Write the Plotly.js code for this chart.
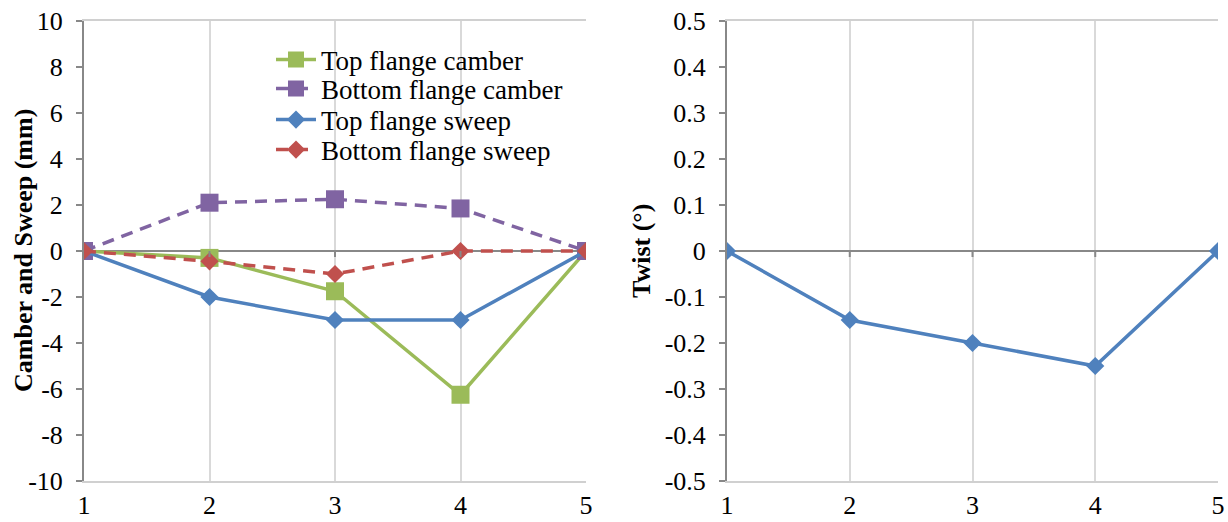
<!DOCTYPE html>
<html><head><meta charset="utf-8">
<script src="https://cdn.plot.ly/plotly-3.0.1.min.js"></script>
<style>html,body{margin:0;padding:0;background:#fff}#c{width:1228px;height:522px}</style>
</head><body><div id="c"></div>
<script>
const positions = [1, 2, 3, 4, 5];
const topCamber = [0, -0.3, -1.75, -6.25, 0];
const bottomCamber = [0, 2.1, 2.25, 1.85, 0];
const topSweep = [0, -2, -3, -3, 0];
const bottomSweep = [0, -0.45, -1, 0, 0];
const twist = [0, -0.15, -0.2, -0.25, 0];
const leftTicks = [-10, -8, -6, -4, -2, 0, 2, 4, 6, 8, 10];
const rightTicks = [-0.5, -0.4, -0.3, -0.2, -0.1, 0, 0.1, 0.2, 0.3, 0.4, 0.5];
const seriesNames = ['Top flange camber', 'Bottom flange camber', 'Top flange sweep', 'Bottom flange sweep'];
const leftTitle = 'Camber and Sweep (mm)';
const rightTitle = 'Twist (°)';

const FONT = 'Liberation Serif';
const W = 1228, H0 = 21, H1 = 481;
const DASH = '12px,8px';
const traces = [
  {x: positions, y: topCamber, name: seriesNames[0], legend: 'legend', mode: 'lines+markers',
   line: {color: '#9BBB59', width: 3.5}, marker: {symbol: 'square', size: 18, color: '#9BBB59'}, xaxis: 'x', yaxis: 'y'},
  {x: positions, y: bottomCamber, name: seriesNames[1], legend: 'legend2', mode: 'lines+markers',
   line: {color: '#8064A2', width: 3.5, dash: DASH}, marker: {symbol: 'square', size: 18, color: '#8064A2'}, xaxis: 'x', yaxis: 'y'},
  {x: positions, y: topSweep, name: seriesNames[2], legend: 'legend3', mode: 'lines+markers',
   line: {color: '#4F81BD', width: 3.5}, marker: {symbol: 'diamond', size: 14, color: '#4F81BD'}, xaxis: 'x', yaxis: 'y'},
  {x: positions, y: bottomSweep, name: seriesNames[3], legend: 'legend4', mode: 'lines+markers',
   line: {color: '#C0504D', width: 3.5, dash: DASH}, marker: {symbol: 'diamond', size: 14, color: '#C0504D'}, xaxis: 'x', yaxis: 'y'},
  {x: positions, y: twist, name: 'Twist', mode: 'lines+markers', showlegend: false,
   line: {color: '#4F81BD', width: 3.5}, marker: {symbol: 'diamond', size: 14, color: '#4F81BD'}, xaxis: 'x2', yaxis: 'y2'}
];

function xax(domain, anchor) {
  return {domain: domain, anchor: anchor, range: [1, 5], tickmode: 'array', tickvals: positions, ticktext: positions.map(String),
    showgrid: true, gridcolor: '#d9d9d9', gridwidth: 2, showline: true, mirror: true, linecolor: '#d0d0d0', linewidth: 2,
    zeroline: false, ticks: '', tickfont: {family: FONT, size: 26, color: '#000'}};
}
function yax(ticks, anchor) {
  return {anchor: anchor, domain: [0, 1], range: [ticks[0], ticks[ticks.length - 1]], tickmode: 'array', tickvals: ticks,
    ticktext: ticks.map(String), showgrid: false, showline: true, linecolor: '#888888', linewidth: 2,
    ticks: 'outside', ticklen: 6, tickcolor: '#888888', tickwidth: 2, ticklabelstandoff: 8,
    zeroline: true, zerolinecolor: '#888888', zerolinewidth: 2,
    tickfont: {family: FONT, size: 26, color: '#000'}};
}

const shapes = [];
[['x', 'y'], ['x2', 'y2']].forEach(function(p) {
  positions.slice(1, 4).forEach(function(v) {
    shapes.push({type: 'line', xref: p[0], yref: p[1], x0: v, x1: v, ysizemode: 'pixel', yanchor: 0, y0: 0, y1: -6,
      line: {color: '#888888', width: 2}});
  });
});

function py(p) { return (H1 - p) / (H1 - H0); }
function leg(yPix) {
  return {x: 271 / W, y: py(yPix), xanchor: 'left', yanchor: 'middle', bgcolor: 'rgba(0,0,0,0)',
    font: {family: FONT, size: 27, color: '#000'}, itemwidth: 40};
}

const layout = {
  width: 1228, height: 522, paper_bgcolor: '#fff', plot_bgcolor: '#fff',
  margin: {l: 0, r: 0, t: H0, b: 522 - H1},
  font: {family: FONT, size: 26, color: '#000'},
  xaxis: xax([84 / W, 586 / W], 'y'),
  yaxis: yax(leftTicks, 'x'),
  xaxis2: xax([727 / W, 1218 / W], 'y2'),
  yaxis2: yax(rightTicks, 'x2'),
  shapes: shapes,
  annotations: [
    {text: '<b>' + leftTitle + '</b>', xref: 'paper', yref: 'paper', x: 23 / W, y: 0.5, textangle: -90,
     showarrow: false, xanchor: 'center', yanchor: 'middle', font: {family: FONT, size: 26, color: '#000'}},
    {text: '<b>' + rightTitle + '</b>', xref: 'paper', yref: 'paper', x: 641 / W, y: 0.5, textangle: -90,
     showarrow: false, xanchor: 'center', yanchor: 'middle', font: {family: FONT, size: 26, color: '#000'}}
  ],
  legend: leg(60), legend2: leg(89), legend3: leg(120), legend4: leg(150),
  showlegend: true
};
Plotly.newPlot('c', traces, layout, {staticPlot: true, displayModeBar: false});
</script></body></html>
